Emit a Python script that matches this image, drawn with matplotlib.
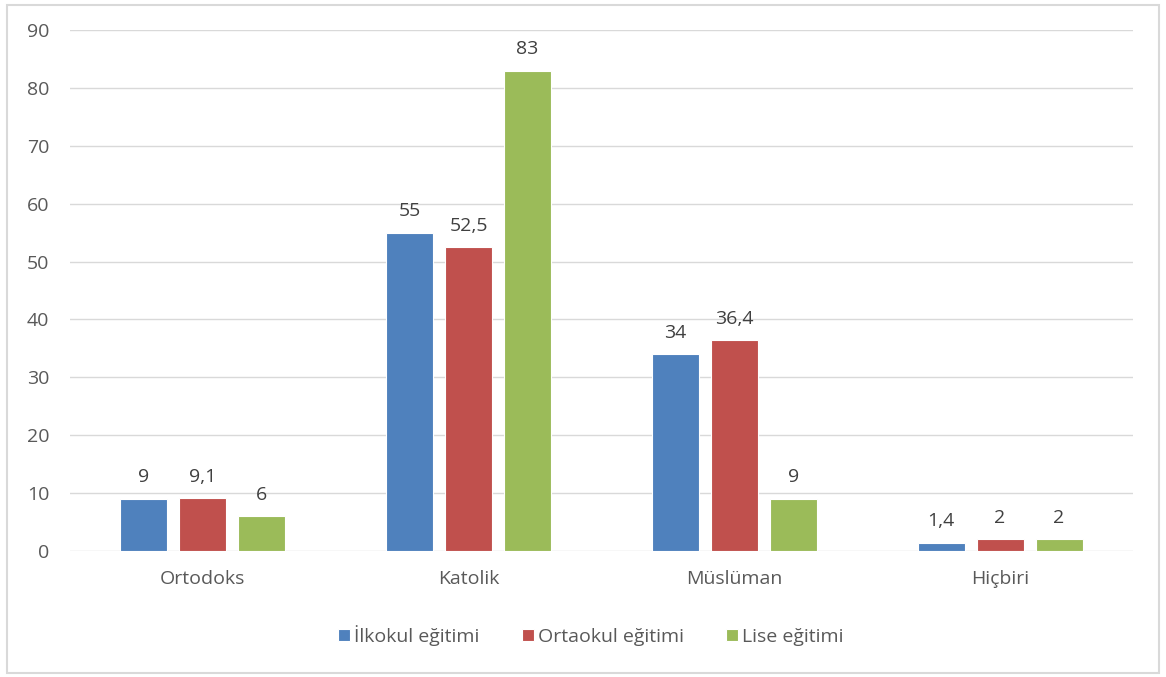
import numpy as np
import matplotlib.pyplot as plt
from matplotlib.patches import Rectangle

# Chart data
categories = ["Ortodoks", "Katolik", "Müslüman", "Hiçbiri"]
series_names = ["İlkokul eğitimi", "Ortaokul eğitimi", "Lise eğitimi"]
ilkokul = [9, 55, 34, 1.4]
ortaokul = [9.1, 52.5, 36.4, 2]
lise = [6, 83, 9, 2]
colors = ["#4F81BD", "#C0504D", "#9BBB59"]

plt.rcParams['font.family'] = ['Open Sans', 'DejaVu Sans']
text_color = "#595959"
fs = 14

fig = plt.figure(figsize=(11.66, 6.77), dpi=100)
ax = fig.add_axes([0.06, 0.1861, 0.9117, 0.7696])

x = np.arange(len(categories))
width = 0.177
offset = 0.222

for i, (vals, name) in enumerate(zip([ilkokul, ortaokul, lise], series_names)):
    pos = x + (i - 1) * offset
    bars = ax.bar(pos, vals, width, color=colors[i], edgecolor="white", linewidth=0.8, label=name, zorder=3)
    labels = [f"{v:g}".replace(".", ",") for v in vals]
    ax.bar_label(bars, labels=labels, padding=9, fontsize=fs, color="#404040")

ax.set_xlim(-0.5, len(categories) - 0.5)
ax.set_ylim(0, 90)
ax.set_yticks(np.arange(0, 91, 10))
ax.set_xticks(x)
ax.set_xticklabels(categories)
ax.tick_params(axis="both", length=0, labelsize=fs, colors=text_color)
ax.tick_params(axis="x", pad=14)
ax.tick_params(axis="y", pad=15)
ax.grid(axis="y", color="#D9D9D9", linewidth=1, zorder=0)
for s in ax.spines.values():
    s.set_visible(False)

leg = ax.legend(loc="upper center", bbox_to_anchor=(0.49, -0.108), ncol=3, frameon=False,
                fontsize=fs, handlelength=0.6, handleheight=0.6, handletextpad=0.2, columnspacing=2.2,
                labelcolor=text_color)

fig.patches.append(Rectangle((7 / 1166, 4 / 677), 1152 / 1166, 668 / 677, transform=fig.transFigure,
                             fill=False, edgecolor="#D9D9D9", linewidth=1.5))

fig.savefig("out.png", dpi=100)
